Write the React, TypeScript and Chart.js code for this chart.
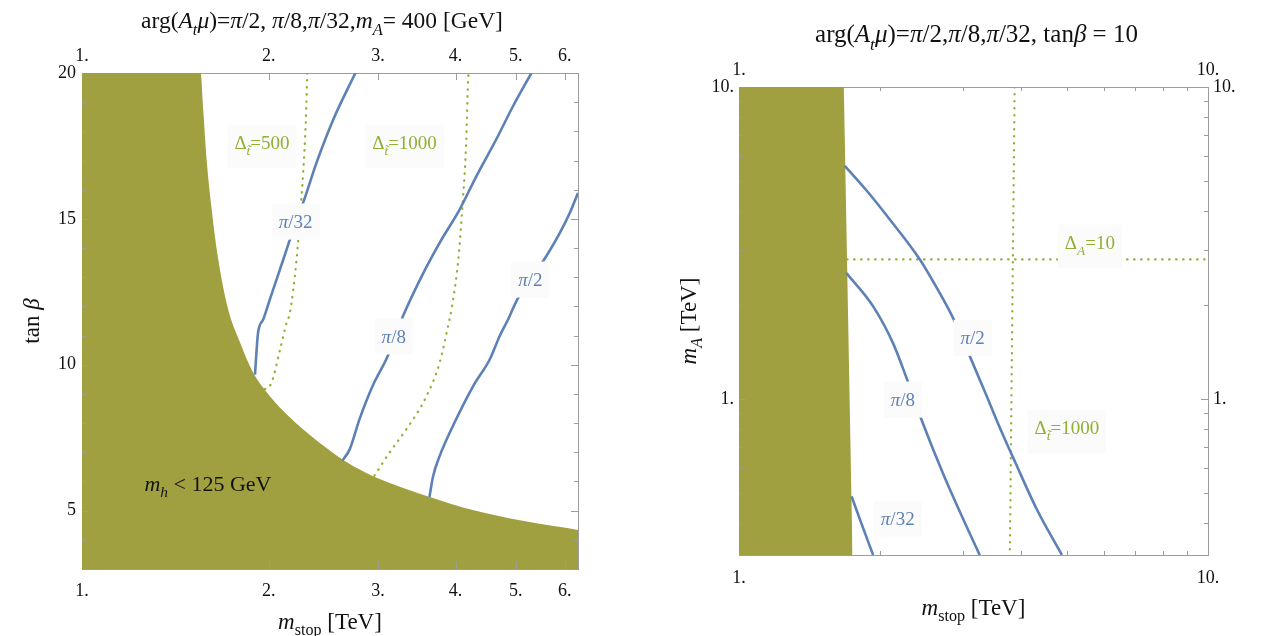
import React, { useEffect, useRef } from "react";
import { Chart, registerables } from "chart.js";
Chart.register(...registerables);

const OLIVE = "#a1a040";
const BLUE = "#5e81b5";
const GREEN = "#8fb032";
const FRAME = "#9c9c9c";
const SERIF = "Liberation Serif";

// ---------- Left panel (m_A = 400 GeV) ----------
const leftXRange = [1, 6.3];
const leftYRange = [3, 20];
const leftXTicks = [1, 2, 3, 4, 5, 6];
const leftXTickLabels = ["1.", "2.", "3.", "4.", "5.", "6."];
const leftYTicks = [5, 10, 15, 20];
const leftYTickLabels = ["5", "10", "15", "20"];
const leftYMinor = [4, 6, 7, 8, 9, 11, 12, 13, 14, 16, 17, 18, 19];

const boundaryX = [1, 1.553, 1.568, 1.588, 1.618, 1.658, 1.72, 1.797, 1.886, 2.008, 2.162, 2.329, 2.49, 2.651, 2.856, 3.133, 3.635, 4.263, 5.131, 6.3];
const boundaryY = [20, 20, 18.74, 17.03, 15.32, 13.61, 11.9, 10.77, 9.74, 8.92, 8.2, 7.59, 7.11, 6.7, 6.32, 5.95, 5.47, 5.02, 4.65, 4.34];

const lPi32X = [1.9, 1.922, 1.959, 2.008, 2.11, 2.163, 2.286, 2.387, 2.54, 2.758];
const lPi32Y = [9.66, 11.1, 11.55, 12.24, 13.6, 14.29, 15.72, 16.92, 18.4, 20];
const lPi8X = [2.63, 2.7, 2.8, 2.94, 3.11, 3.29, 3.55, 3.77, 4.06, 4.32, 4.65, 4.95, 5.3];
const lPi8Y = [6.72, 7.1, 8.13, 9.27, 10.3, 11.66, 13.15, 14.18, 15.32, 16.46, 17.72, 18.86, 20];
const lPi2X = [3.63, 3.68, 3.77, 3.96, 4.27, 4.54, 4.71, 4.86, 5.03, 5.6, 5.89, 6.11, 6.3];
const lPi2Y = [5.47, 6.18, 6.87, 7.9, 9.27, 10.18, 10.98, 11.55, 12.24, 13.72, 14.52, 15.2, 15.89];
const lD500X = [1.97, 2.02, 2.084, 2.136, 2.163, 2.217, 2.244, 2.272, 2.295, 2.307];
const lD500Y = [9.16, 9.38, 10.5, 11.44, 11.78, 13.6, 14.98, 16.58, 18.4, 20];
const lD1000X = [2.96, 3.13, 3.33, 3.59, 3.77, 3.9, 3.94, 4.04, 4.11, 4.16, 4.19, 4.2];
const lD1000Y = [6.2, 6.99, 7.78, 8.92, 10.07, 11.44, 11.9, 13.6, 15.66, 17.6, 19.77, 20];

// ---------- Right panel (tan beta = 10) ----------
const rightXRange = [1, 10];
const rightYRange = [0.316, 10];
const rightXTicks = [1, 10];
const rightXTickLabels = ["1.", "10."];
const rightYTicks = [1, 10];
const rightYTickLabels = ["1.", "10."];
const rightXMinor = [2, 3, 4, 5, 6, 7, 8, 9];
const rightYMinor = [0.4, 0.5, 0.6, 0.7, 0.8, 0.9, 2, 3, 4, 5, 6, 7, 8, 9];

const rFillX = [1, 1.673, 1.746];
const rFillY = [10, 10, 0.316];
const rPi2X = [1.681, 1.873, 2.097, 2.43, 2.641, 2.844, 3.076, 3.344, 3.599, 3.875, 4.317, 4.881];
const rPi2Y = [5.59, 4.65, 3.76, 2.8, 2.27, 1.849, 1.418, 1.055, 0.809, 0.63, 0.442, 0.316];
const rPi8X = [1.695, 1.932, 2.13, 2.276, 2.45, 2.72, 3.01, 3.26];
const rPi8Y = [2.53, 1.98, 1.51, 1.168, 0.858, 0.579, 0.41, 0.316];
const rPi32X = [1.738, 1.827, 1.932];
const rPi32Y = [0.487, 0.396, 0.316];
const rDtX = [3.87, 3.78];
const rDtY = [10, 0.316];
const rDaX = [1.7, 10];
const rDaY = [2.8, 2.8];

type Seg = { t: string; i?: boolean; sub?: boolean };
type Lbl = { x: number; y: number; segs: Seg[]; color: string; box: boolean; size: number };

const leftLabels: Lbl[] = [
  { x: 1.95, y: 17.61, segs: [{ t: "Δ" }, { t: "t\u0303", i: true, sub: true }, { t: "=500" }], color: GREEN, box: true, size: 19 },
  { x: 3.31, y: 17.61, segs: [{ t: "Δ" }, { t: "t\u0303", i: true, sub: true }, { t: "=1000" }], color: GREEN, box: true, size: 19 },
  { x: 2.21, y: 14.91, segs: [{ t: "π", i: true }, { t: "/32" }], color: BLUE, box: true, size: 19 },
  { x: 3.18, y: 10.97, segs: [{ t: "π", i: true }, { t: "/8" }], color: BLUE, box: true, size: 19 },
  { x: 5.28, y: 12.92, segs: [{ t: "π", i: true }, { t: "/2" }], color: BLUE, box: true, size: 19 },
  { x: 1.596, y: 5.93, segs: [{ t: "m", i: true }, { t: "h", i: true, sub: true }, { t: " < 125 GeV" }], color: "#111", box: false, size: 22 },
];
const rightLabels: Lbl[] = [
  { x: 5.6, y: 3.17, segs: [{ t: "Δ" }, { t: "A", i: true, sub: true }, { t: "=10" }], color: GREEN, box: true, size: 19 },
  { x: 5.0, y: 0.809, segs: [{ t: "Δ" }, { t: "t\u0303", i: true, sub: true }, { t: "=1000" }], color: GREEN, box: true, size: 19 },
  { x: 3.15, y: 1.57, segs: [{ t: "π", i: true }, { t: "/2" }], color: BLUE, box: true, size: 19 },
  { x: 2.236, y: 0.995, segs: [{ t: "π", i: true }, { t: "/8" }], color: BLUE, box: true, size: 19 },
  { x: 2.18, y: 0.413, segs: [{ t: "π", i: true }, { t: "/32" }], color: BLUE, box: true, size: 19 },
];

const leftTitle: Seg[] = [
  { t: "arg(" }, { t: "A", i: true }, { t: "t", i: true, sub: true }, { t: "μ", i: true }, { t: ")=" },
  { t: "π", i: true }, { t: "/2, " }, { t: "π", i: true }, { t: "/8," }, { t: "π", i: true }, { t: "/32," },
  { t: "m", i: true }, { t: "A", i: true, sub: true }, { t: "= 400 [GeV]" },
];
const rightTitle: Seg[] = [
  { t: "arg(" }, { t: "A", i: true }, { t: "t", i: true, sub: true }, { t: "μ", i: true }, { t: ")=" },
  { t: "π", i: true }, { t: "/2," }, { t: "π", i: true }, { t: "/8," }, { t: "π", i: true }, { t: "/32, tan" },
  { t: "β", i: true }, { t: " = 10" },
];
const mstopTitle: Seg[] = [{ t: "m", i: true }, { t: "stop", sub: true }, { t: " [TeV]" }];
const tanbTitle: Seg[] = [{ t: "tan " }, { t: "β", i: true }];
const mATitle: Seg[] = [{ t: "m", i: true }, { t: "A", i: true, sub: true }, { t: " [TeV]" }];

function segFont(s: Seg, size: number) {
  const sz = s.sub ? size * 0.7 : size;
  return `${s.i ? "italic " : ""}${sz}px "${SERIF}"`;
}
function richWidth(ctx: CanvasRenderingContext2D, segs: Seg[], size: number) {
  let w = 0;
  for (const s of segs) {
    ctx.font = segFont(s, size);
    w += ctx.measureText(s.t).width;
  }
  return w;
}
function drawRich(ctx: CanvasRenderingContext2D, segs: Seg[], cx: number, cy: number, size: number, color: string) {
  const w = richWidth(ctx, segs, size);
  let x = cx - w / 2;
  const base = cy + size * 0.33;
  ctx.fillStyle = color;
  ctx.textAlign = "left";
  ctx.textBaseline = "alphabetic";
  for (const s of segs) {
    ctx.font = segFont(s, size);
    ctx.fillText(s.t, x, s.sub ? base + size * 0.3 : base);
    x += ctx.measureText(s.t).width;
  }
  return w;
}

function pts(xs: number[], ys: number[]) {
  return xs.map((x, i) => ({ x, y: ys[i] }));
}

function lineDs(xs: number[], ys: number[], color: string) {
  return { data: pts(xs, ys), showLine: true, borderColor: color, borderWidth: 2.6, pointRadius: 0, fill: false, cubicInterpolationMode: "monotone" };
}
function dotDs(xs: number[], ys: number[]) {
  return { data: pts(xs, ys), showLine: true, borderColor: GREEN, borderWidth: 2.2, borderDash: [0.5, 6.5], borderCapStyle: "round", pointRadius: 0, fill: false, cubicInterpolationMode: "monotone" };
}
function fillDs(xs: number[], ys: number[]) {
  return { data: pts(xs, ys), showLine: true, borderColor: OLIVE, borderWidth: 0, backgroundColor: OLIVE, pointRadius: 0, fill: "start", cubicInterpolationMode: "monotone" };
}

function axis(type: string, position: string, range: number[], ticks: number[], labels: string[], show: boolean, padding: number, fit: (s: any) => void) {
  return {
    type,
    position,
    bounds: "data",
    min: range[0],
    max: range[1],
    afterDataLimits: (s: any) => {
      s.min = range[0];
      s.max = range[1];
    },
    afterBuildTicks: (s: any) => {
      s.min = range[0];
      s.max = range[1];
      s.ticks = ticks.map((v) => ({ value: v }));
    },
    afterFit: fit,
    ticks: {
      display: show,
      autoSkip: false,
      maxRotation: 0,
      padding,
      color: "#111",
      font: { family: SERIF, size: 18 },
      callback: (_v: any, i: number) => labels[i],
    },
    grid: { drawOnChartArea: false, drawTicks: false },
    border: { display: true, color: FRAME, width: 1 },
  };
}

function tickPlugin(xMajor: number[], xMinor: number[], yMajor: number[], yMinor: number[]) {
  return {
    id: "innerTicks",
    afterDatasetsDraw(chart: any) {
      const { ctx, chartArea: a } = chart;
      const xs = chart.scales.x, ys = chart.scales.y;
      ctx.save();
      ctx.strokeStyle = FRAME;
      ctx.lineWidth = 1;
      ctx.beginPath();
      const vx = (vals: number[], len: number) => {
        for (const v of vals) {
          const p = Math.round(xs.getPixelForValue(v)) + 0.5;
          ctx.moveTo(p, a.bottom); ctx.lineTo(p, a.bottom - len);
          ctx.moveTo(p, a.top); ctx.lineTo(p, a.top + len);
        }
      };
      const vy = (vals: number[], len: number) => {
        for (const v of vals) {
          const p = Math.round(ys.getPixelForValue(v)) + 0.5;
          ctx.moveTo(a.left, p); ctx.lineTo(a.left + len, p);
          ctx.moveTo(a.right, p); ctx.lineTo(a.right - len, p);
        }
      };
      vx(xMajor, 7); vx(xMinor, 4); vy(yMajor, 7); vy(yMinor, 4);
      ctx.stroke();
      ctx.restore();
    },
  };
}

function textPlugin(labels: Lbl[], title: Seg[], titleDx: number, titleSize: number, xTitle: Seg[], yTitle: Seg[]) {
  return {
    id: "richText",
    afterDatasetsDraw(chart: any) {
      const { ctx } = chart;
      const xs = chart.scales.x, ys = chart.scales.y;
      ctx.save();
      for (const l of labels) {
        const px = xs.getPixelForValue(l.x);
        const py = ys.getPixelForValue(l.y);
        if (l.box) {
          const w = richWidth(ctx, l.segs, l.size);
          ctx.fillStyle = "#fbfbfb";
          const hasSub = l.segs.some((s) => s.sub);
          const h = hasSub ? l.size * 2.3 : l.size * 1.9;
          ctx.fillRect(px - w / 2 - 7, py - l.size * 0.95, w + 14, h);
        }
        drawRich(ctx, l.segs, px, py, l.size, l.color);
      }
      ctx.restore();
    },
    afterDraw(chart: any) {
      const { ctx, chartArea: a } = chart;
      ctx.save();
      const cx = (a.left + a.right) / 2;
      const cy = (a.top + a.bottom) / 2;
      drawRich(ctx, title, cx + titleDx, a.top - 53, titleSize, "#111");
      drawRich(ctx, xTitle, cx, a.bottom + 52, 23, "#111");
      ctx.translate(a.left - 51, cy);
      ctx.rotate(-Math.PI / 2);
      drawRich(ctx, yTitle, 0, 0, 23, "#111");
      ctx.restore();
    },
  };
}

export default function App() {
  const leftRef = useRef<HTMLCanvasElement>(null);
  const rightRef = useRef<HTMLCanvasElement>(null);

  useEffect(() => {
    const left = new Chart(leftRef.current as HTMLCanvasElement, {
      type: "scatter",
      data: {
        datasets: [
          lineDs(lPi32X, lPi32Y, BLUE),
          lineDs(lPi8X, lPi8Y, BLUE),
          lineDs(lPi2X, lPi2Y, BLUE),
          dotDs(lD500X, lD500Y),
          dotDs(lD1000X, lD1000Y),
          fillDs(boundaryX, boundaryY),
        ] as any,
      },
      options: {
        animation: false,
        responsive: false,
        layout: { padding: { left: 40, right: 45, top: 43, bottom: 37 } },
        plugins: { legend: { display: false }, tooltip: { enabled: false } },
        scales: {
          x: axis("logarithmic", "bottom", leftXRange, leftXTicks, leftXTickLabels, true, 11, (s: any) => { s.height = 30; }),
          x2: axis("logarithmic", "top", leftXRange, leftXTicks, leftXTickLabels, true, 6, (s: any) => { s.height = 30; }),
          y: axis("linear", "left", leftYRange, leftYTicks, leftYTickLabels, true, 6, (s: any) => { s.width = 42; }),
          y2: axis("linear", "right", leftYRange, leftYTicks, leftYTickLabels, false, 6, (s: any) => { s.width = 10; }),
        } as any,
      },
      plugins: [tickPlugin([2, 3, 4, 5, 6], [], [5, 10, 15], leftYMinor), textPlugin(leftLabels, leftTitle, -8, 23.5, mstopTitle, tanbTitle)],
    });

    const right = new Chart(rightRef.current as HTMLCanvasElement, {
      type: "scatter",
      data: {
        datasets: [
          lineDs(rPi2X, rPi2Y, BLUE),
          lineDs(rPi8X, rPi8Y, BLUE),
          lineDs(rPi32X, rPi32Y, BLUE),
          dotDs(rDtX, rDtY),
          dotDs(rDaX, rDaY),
          { ...fillDs(rFillX, rFillY), cubicInterpolationMode: "default", tension: 0 },
        ] as any,
      },
      options: {
        animation: false,
        responsive: false,
        layout: { padding: { left: 56, right: 8, top: 57, bottom: 51 } },
        plugins: { legend: { display: false }, tooltip: { enabled: false } },
        scales: {
          x: axis("logarithmic", "bottom", rightXRange, rightXTicks, rightXTickLabels, true, 12, (s: any) => { s.height = 30; }),
          x2: axis("logarithmic", "top", rightXRange, rightXTicks, rightXTickLabels, true, 6, (s: any) => { s.height = 30; }),
          y: axis("logarithmic", "left", rightYRange, rightYTicks, rightYTickLabels, true, 5, (s: any) => { s.width = 50; }),
          y2: axis("logarithmic", "right", rightYRange, rightYTicks, rightYTickLabels, true, 5, (s: any) => { s.width = 50; }),
        } as any,
      },
      plugins: [tickPlugin([], rightXMinor, [1], rightYMinor), textPlugin(rightLabels, rightTitle, 3, 25, mstopTitle, mATitle)],
    });

    return () => {
      left.destroy();
      right.destroy();
    };
  }, []);

  return (
    <div style={{ position: "fixed", left: 0, top: 0, width: 1266, height: 636, background: "#fff" }}>
      <canvas ref={leftRef} width={633} height={636} style={{ position: "absolute", left: 0, top: 0, width: 633, height: 636 }} />
      <canvas ref={rightRef} width={633} height={636} style={{ position: "absolute", left: 633, top: 0, width: 633, height: 636 }} />
    </div>
  );
}
